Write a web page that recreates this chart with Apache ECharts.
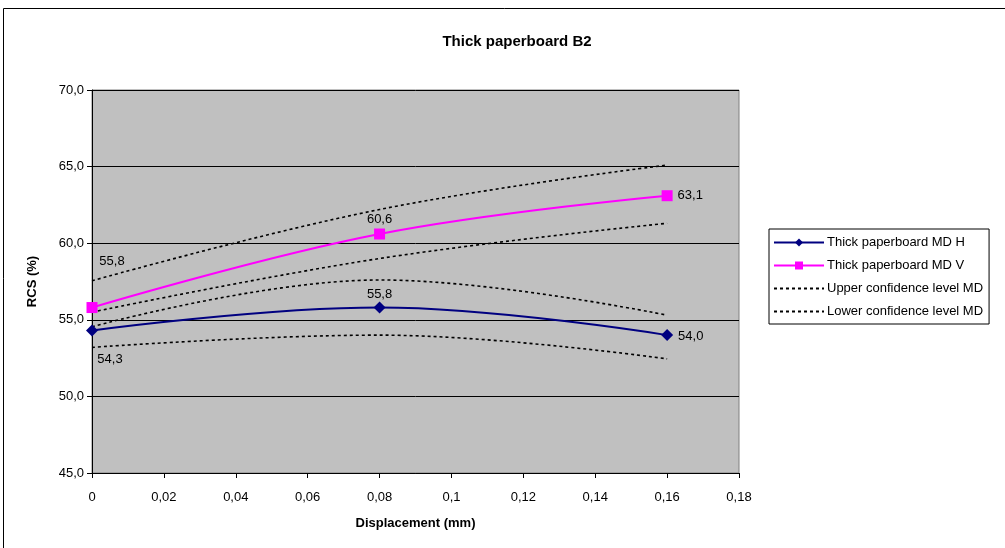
<!DOCTYPE html>
<html><head><meta charset="utf-8">
<script src="https://cdn.jsdelivr.net/npm/echarts@6/dist/echarts.min.js"></script>
<style>html,body{margin:0;padding:0;background:#fff}#c{width:1005px;height:548px}</style>
</head><body><div id="c"></div>
<script>
const displacement = [0, 0.08, 0.16];
const mdH = [54.3, 55.8, 54.0];
const mdV = [55.8, 60.6, 63.1];
const upperH = [54.55, 57.6, 55.3];
const lowerH = [53.2, 54.0, 52.45];
const upperV = [57.55, 62.2, 65.1];
const lowerV = [55.5, 59.0, 61.3];
const yTicks = ['45,0','50,0','55,0','60,0','65,0','70,0'];
const names = ['Thick paperboard MD H','Thick paperboard MD V','Upper confidence level MD','Lower confidence level MD'];

const FONT = '"Liberation Sans", Arial, sans-serif';
const fmt = v => String(parseFloat(v.toFixed(2))).replace('.', ',');
const pts = arr => arr.map((v, i) => [displacement[i], v]);

// per-point label placement (style only)
const labH = [{position:'bottom', offset:[18, 11]}, {position:'top', offset:[0, 4]}, {position:'right', offset:[0, 1]}];
const labV = [{position:'top', offset:[20, -29]}, {position:'top', offset:[0, 2]}, {position:'right', offset:[0, 0]}];

function labeled(arr, labs) {
  return arr.map((v, i) => ({
    value: [displacement[i], v],
    label: Object.assign({show: true, formatter: p => p.value[1].toFixed(1).replace('.', ','),
      fontFamily: FONT, fontSize: 13, color: '#000'}, labs[i])
  }));
}

const dotted = {type: [3, 3], width: 1.6, color: '#000'};

const chart = echarts.init(document.getElementById('c'));
chart.setOption({
  animation: false,
  backgroundColor: '#fff',
  title: {text: 'Thick paperboard B2', left: 512, top: 29, textAlign: 'center',
    textStyle: {fontFamily: FONT, fontSize: 15, fontWeight: 'bold', color: '#000'}},
  graphic: [{type: 'rect', shape: {x: 3.5, y: 8.5, width: 1100, height: 700},
    style: {fill: 'none', stroke: '#000', lineWidth: 1}, z: 100}],
  legend: {
    orient: 'vertical', left: 769, top: 229, width: 400,
    data: [
      {name: names[0]},
      {name: names[1]},
      {name: names[2], itemStyle: {opacity: 0}},
      {name: names[3], itemStyle: {opacity: 0}}
    ],
    backgroundColor: '#fff', borderColor: '#000', borderWidth: 1,
    padding: [7, 6, 6, 4], itemGap: 10, itemWidth: 50, itemHeight: 10,
    textStyle: {fontFamily: FONT, fontSize: 13, color: '#000', padding: [0, 0, 0, -2]}
  },
  grid: {left: 92, right: 266, top: 90, bottom: 75, show: true,
    backgroundColor: '#C0C0C0', borderColor: '#808080', borderWidth: 1},
  xAxis: {
    type: 'value', min: 0, max: 0.18, interval: 0.02,
    name: 'Displacement (mm)', nameLocation: 'middle', nameGap: 44,
    nameTextStyle: {fontFamily: FONT, fontSize: 13, fontWeight: 'bold', color: '#000'},
    axisLine: {onZero: false, lineStyle: {color: '#000', width: 1}},
    axisTick: {show: true, length: 5, lineStyle: {color: '#000'}},
    axisLabel: {formatter: fmt, fontFamily: FONT, fontSize: 13, color: '#000', margin: 18},
    splitLine: {show: false}
  },
  yAxis: {
    type: 'value', min: 45, max: 70, interval: 5,
    name: 'RCS (%)', nameLocation: 'middle', nameGap: 53, nameRotate: 90,
    nameTextStyle: {fontFamily: FONT, fontSize: 13, fontWeight: 'bold', color: '#000'},
    axisLine: {show: true, lineStyle: {color: '#000', width: 1}},
    axisTick: {show: true, length: 5, lineStyle: {color: '#000'}},
    axisLabel: {formatter: v => yTicks[Math.round((v - 45) / 5)], fontFamily: FONT, fontSize: 13, color: '#000', margin: 8},
    splitLine: {show: true, lineStyle: {color: '#000', width: 1}}
  },
  series: [
    {name: names[2], type: 'line', data: pts(upperH), smooth: 0.4, symbol: 'none', lineStyle: dotted, itemStyle: {color: '#000'}, z: 2},
    {name: names[3], type: 'line', data: pts(lowerH), smooth: 0.4, symbol: 'none', lineStyle: dotted, itemStyle: {color: '#000'}, z: 2},
    {name: names[2], type: 'line', data: pts(upperV), smooth: 0.4, symbol: 'none', lineStyle: dotted, itemStyle: {color: '#000'}, z: 2},
    {name: names[3], type: 'line', data: pts(lowerV), smooth: 0.4, symbol: 'none', lineStyle: dotted, itemStyle: {color: '#000'}, z: 2},
    {name: names[0], type: 'line', data: labeled(mdH, labH), smooth: 0.4, symbol: 'diamond', symbolSize: 12,
      lineStyle: {color: '#000080', width: 2}, itemStyle: {color: '#000080'}, z: 5},
    {name: names[1], type: 'line', data: labeled(mdV, labV), smooth: 0.4, symbol: 'rect', symbolSize: 11,
      lineStyle: {color: '#FF00FF', width: 2}, itemStyle: {color: '#FF00FF'}, z: 5}
  ]
});
</script></body></html>
